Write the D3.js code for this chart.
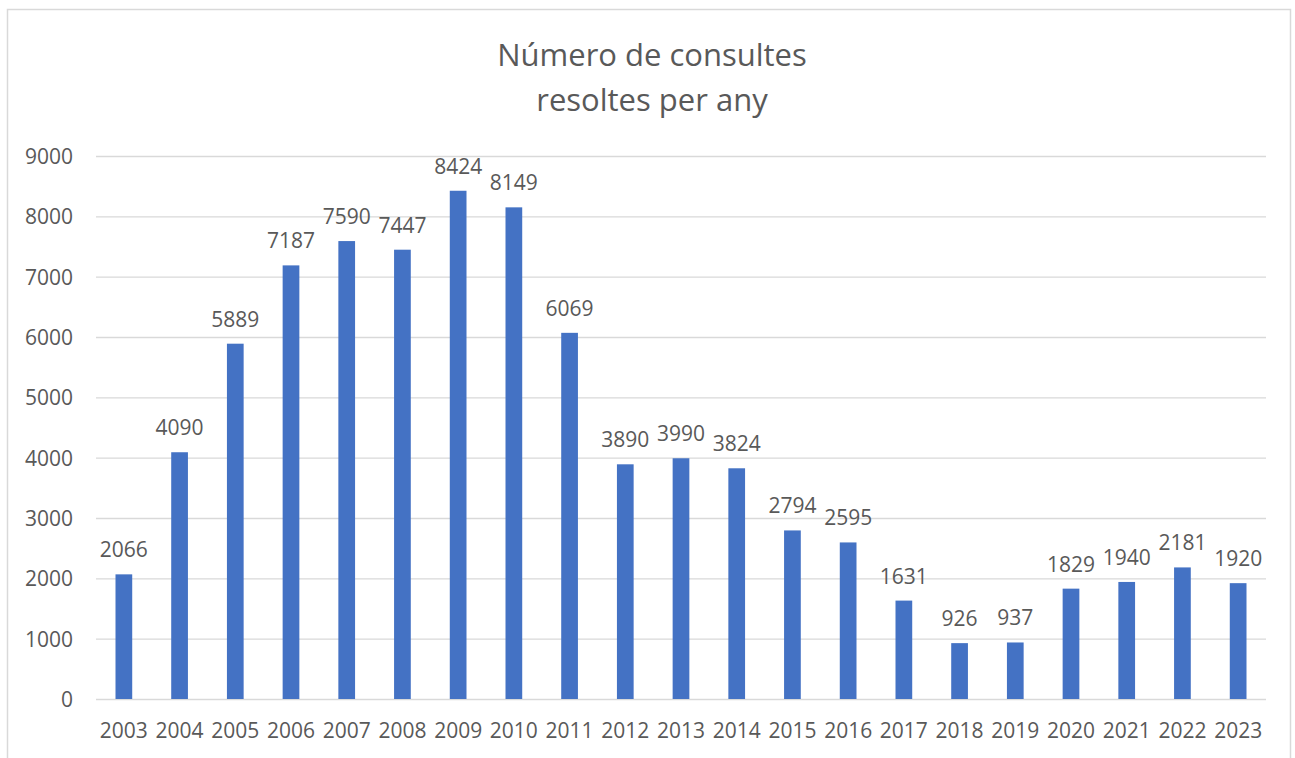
<!DOCTYPE html>
<html lang="ca">
<head>
<meta charset="UTF-8">
<title>Número de consultes resoltes per any</title>
<script src="https://cdn.jsdelivr.net/npm/d3@7"></script>
<style>
  body { margin: 0; padding: 0; background: #fff; }
  #chart { width: 1295px; height: 758px; }
  text { font-family: "Open Sans", Lato, sans-serif; fill: #595959; }
  .title { font-size: 31px; }
  .tick text { font-size: 21px; }
  .label { font-size: 21px; }
  .grid line { stroke: #d9d9d9; stroke-width: 1.3; }
  .frame { fill: none; stroke: #d9d9d9; stroke-width: 1.5; }
  .bar { fill: #4472c4; }
</style>
</head>
<body>
<div id="chart"></div>
<script>
// data
const years = ["2003","2004","2005","2006","2007","2008","2009","2010","2011","2012","2013",
               "2014","2015","2016","2017","2018","2019","2020","2021","2022","2023"];
const consultes = [2066,4090,5889,7187,7590,7447,8424,8149,6069,3890,3990,
                   3824,2794,2595,1631,926,937,1829,1940,2181,1920];
const yTicks = [0,1000,2000,3000,4000,5000,6000,7000,8000,9000];
const titleLines = ["Número de consultes", "resoltes per any"];

const W = 1295, H = 758;
const margin = {top: 156, right: 29, bottom: 59, left: 96};
const width = W - margin.left - margin.right,
      height = H - margin.top - margin.bottom;

const svg = d3.select("#chart").append("svg")
    .attr("width", W).attr("height", H);

// chart frame (bottom edge is outside the picture)
svg.append("rect").attr("class", "frame")
    .attr("x", 7.5).attr("y", 9.5).attr("width", 1283).attr("height", 760);

// title
svg.append("text").attr("class", "title")
    .attr("text-anchor", "middle")
    .selectAll("tspan").data(titleLines).enter().append("tspan")
    .attr("x", 652)
    .attr("y", function(d, i) { return 66 + i * 45; })
    .text(function(d) { return d; });

const g = svg.append("g")
    .attr("transform", "translate(" + margin.left + "," + margin.top + ")");

const x = d3.scaleBand().domain(years).range([0, width]).paddingInner(0.7).paddingOuter(0.35);
const y = d3.scaleLinear().domain([0, 9000]).range([height, 0]);

// gridlines + y labels
const yAxis = g.append("g").attr("class", "grid")
    .call(d3.axisLeft(y).tickValues(yTicks).tickSize(-width).tickPadding(23).tickFormat(d3.format("d")));
yAxis.select(".domain").remove();
yAxis.selectAll(".tick text").attr("dy", "0.36em");

// x labels
const xAxis = g.append("g")
    .attr("transform", "translate(0," + height + ")")
    .call(d3.axisBottom(x).tickSize(0).tickPadding(39));
xAxis.select(".domain").remove();
xAxis.selectAll(".tick text").attr("dy", "0");

// bars
g.selectAll(".bar").data(consultes).enter().append("rect")
    .attr("class", "bar")
    .attr("x", function(d, i) { return x(years[i]); })
    .attr("width", x.bandwidth())
    .attr("y", function(d) { return y(d); })
    .attr("height", function(d) { return height - y(d); });

// data labels
g.selectAll(".label").data(consultes).enter().append("text")
    .attr("class", "label")
    .attr("text-anchor", "middle")
    .attr("x", function(d, i) { return x(years[i]) + x.bandwidth() / 2; })
    .attr("y", function(d) { return y(d) - 17; })
    .text(function(d) { return d; });
</script>
</body>
</html>
